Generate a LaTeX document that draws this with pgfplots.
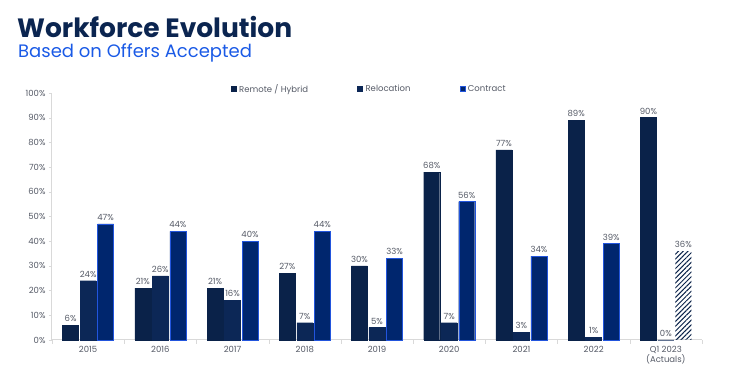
\documentclass[border=0pt]{standalone}
\usepackage{pgfplots}
\pgfplotsset{compat=1.18}
\usepackage{fontspec}
\setmainfont{Poppins}
\usetikzlibrary{patterns.meta}
\definecolor{remote}{HTML}{0A2249}
\definecolor{reloc}{HTML}{0C2756}
\definecolor{contr}{HTML}{00266E}
\definecolor{contredge}{HTML}{2255DD}
\definecolor{titleblue}{HTML}{0B2550}
\definecolor{subblue}{HTML}{1A5AE6}
\definecolor{lbl}{HTML}{555A66}
\definecolor{axgray}{HTML}{D9D9D9}
\begin{document}
\begin{tikzpicture}[x=1pt,y=1pt]
\path[use as bounding box] (0,0) rectangle (732,367);
\node[anchor=base west, inner sep=0, font=\bfseries\fontsize{26.5}{28}\selectfont, text=titleblue] at (17,329.5) {Workforce Evolution};
\node[anchor=base west, inner sep=0, font=\fontsize{18}{20}\selectfont, text=subblue] at (18,309) {Based on Offers Accepted};
\begin{axis}[
  at={(52pt,27pt)}, anchor=south west,
  width=650pt, height=247pt, scale only axis,
  ybar, bar width=16pt,
  ymin=0, ymax=100,
  xmin=-0.5, xmax=8.5,
  ytick={0,10,...,100},
  yticklabel={\pgfmathprintnumber{\tick}\%},
  xtick={0,...,8},
  xticklabels={2015,2016,2017,2018,2019,2020,2021,2022,{Q1 2023\\(Actuals)}},
  xticklabel style={align=center, font=\fontsize{8.5}{9}\selectfont, text=lbl},
  yticklabel style={font=\fontsize{8.5}{9}\selectfont, text=lbl},
  /pgf/number format/assume math mode=true,
  major x tick style={draw=none},
  minor xtick={-0.5,0.5,...,8.5},
  minor tick length=4pt,
  major tick length=3pt,
  tick align=outside,
  tick style={axgray},
  axis x line*=bottom, axis y line*=left,
  axis line style={axgray, line width=1pt},
  x axis line style={-}, y axis line style={-},
  nodes near coords={\pgfmathprintnumber{\pgfplotspointmeta}\%},
  nodes near coords style={font=\fontsize{8.5}{9}\selectfont, text=lbl},
  legend style={at={(0.488,1.016)}, anchor=center, draw=none, fill=none,
    font=\fontsize{8.5}{9}\selectfont, text=lbl, legend columns=3,
    /tikz/every even column/.append style={column sep=47pt},
    /tikz/every odd column/.append style={column sep=1pt}},
  legend image code/.code={\fill[#1] (0pt,-2.5pt) rectangle (5pt,2.5pt);},
  clip=false,
]
\addplot[fill=remote, draw=remote, bar shift=-17.5pt] coordinates {(0,6) (1,21) (2,21) (3,27) (4,30) (5,68) (6,77) (7,89) (8,90)};
\addlegendentry{Remote / Hybrid}
\addplot[fill=reloc, draw=reloc, bar shift=0pt] coordinates {(0,24) (1,26) (2,16) (3,7) (4,5) (5,7) (6,3) (7,1) (8,0)};
\addlegendentry{Relocation}
\addplot[fill=contr, draw=contredge, bar shift=17.5pt] coordinates {(0,47) (1,44) (2,40) (3,44) (4,33) (5,56) (6,34) (7,39)};
\addlegendentry{Contract}
\addplot[pattern={Lines[angle=45,distance=3.4pt,line width=1pt]}, pattern color=remote, draw=none, bar shift=17.5pt, forget plot] coordinates {(8,36)};
\end{axis}
\end{tikzpicture}
\end{document}
